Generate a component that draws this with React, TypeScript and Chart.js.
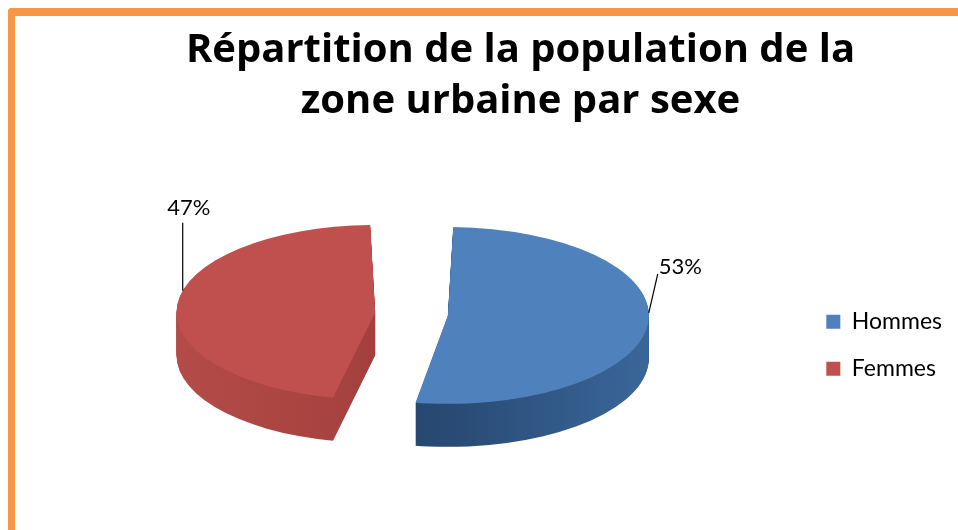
import { useEffect, useRef } from "react";
import { Chart, registerables } from "chart.js";

Chart.register(...registerables);

// ---- data ----
const categories = ["Hommes", "Femmes"];
const values = [53, 47];
const titleLines = ["Répartition de la population de la", "zone urbaine par sexe"];

// ---- styles ----
const topColors = ["#4F81BD", "#C0504D"];
const sideStops = [
  ["#1D3859", "#284A74", "#3B699C"],
  ["#B54D4A", "#A3403D", "#8C3331"],
];
const explode = [136, 156];
const leaderShiftDeg = [-7, 9];
// label placement relative to the leader anchor: [line end dx, line end dy, text dx, text dy, align]
const labelPlacement: [number, number, number, number, CanvasTextAlign][] = [
  [9, -39, 10, -46, "left"],
  [0, -68, 6, -83, "center"],
];
const FONT = "Lato";
const TITLE_FONT = "Open Sans";
const PIE = { cx: 399, cy: 298, k: 0.44, depth: 43, radius: 167 };

function applyProj(ctx: CanvasRenderingContext2D, ref: any) {
  ctx.translate(PIE.cx, PIE.cy);
  ctx.scale(1, PIE.k);
  ctx.translate(-ref.x, -ref.y);
}

const pie3d = {
  id: "pie3d",
  beforeDatasetsDraw(chart: any) {
    const ctx: CanvasRenderingContext2D = chart.ctx;
    const arcs = chart.getDatasetMeta(0).data;
    if (!arcs.length) return;
    const ref = arcs[0];
    for (let d = PIE.depth; d >= 1; d--) {
      ctx.save();
      ctx.translate(0, d);
      applyProj(ctx, ref);
      arcs.forEach((el: any, i: number) => {
        const r = el.outerRadius + 50;
        const g = ctx.createLinearGradient(ref.x - r, 0, ref.x + r, 0);
        const s = sideStops[i % sideStops.length];
        g.addColorStop(0, s[0]);
        g.addColorStop(0.5, s[1]);
        g.addColorStop(1, s[2]);
        const orig = el.options;
        el.options = Object.assign({}, orig, { backgroundColor: g, borderWidth: 0 });
        el.draw(ctx);
        el.options = orig;
      });
      ctx.restore();
    }
    ctx.save();
    applyProj(ctx, ref);
  },
  afterDatasetsDraw(chart: any) {
    const ctx: CanvasRenderingContext2D = chart.ctx;
    ctx.restore();
    const arcs = chart.getDatasetMeta(0).data;
    if (!arcs.length) return;
    const ref = arcs[0];
    const data = chart.data.datasets[0].data as number[];
    const total = data.reduce((a, b) => a + b, 0);
    arcs.forEach((el: any, i: number) => {
      const off = (el.options.offset || 0) / 4;
      const circ = el.endAngle - el.startAngle;
      const fix = 1 - Math.sin(Math.min(Math.PI, circ));
      const reff = el.outerRadius + off * fix;
      const mid = (el.startAngle + el.endAngle) / 2;
      const a = mid + (leaderShiftDeg[i] * Math.PI) / 180;
      const px = ref.x + Math.cos(mid) * off + Math.cos(a) * reff;
      const py = ref.y + Math.sin(mid) * off + Math.sin(a) * reff;
      const sx = PIE.cx + (px - ref.x);
      const sy = PIE.cy + PIE.k * (py - ref.y);
      const [ldx, ldy, tdx, tdy, align] = labelPlacement[i];
      ctx.save();
      ctx.strokeStyle = "#000";
      ctx.lineWidth = 1.2;
      ctx.beginPath();
      ctx.moveTo(sx, sy);
      ctx.lineTo(sx + ldx, sy + ldy);
      ctx.stroke();
      ctx.fillStyle = "#000";
      ctx.font = `22px ${FONT}`;
      ctx.textAlign = align;
      ctx.textBaseline = "middle";
      ctx.fillText(Math.round((data[i] / total) * 100) + "%", sx + tdx, sy + tdy);
      ctx.restore();
    });
  },
};

export default function App() {
  const ref = useRef<HTMLCanvasElement>(null);
  useEffect(() => {
    if (!ref.current) return;
    const chart = new Chart(ref.current, {
      type: "pie",
      data: {
        labels: categories,
        datasets: [
          {
            data: values,
            backgroundColor: topColors,
            borderWidth: 0,
            offset: explode,
            radius: PIE.radius,
            clip: false,
          } as any,
        ],
      },
      options: {
        responsive: false,
        animation: false,
        events: [],
        layout: { padding: { left: 74, right: 6, top: 0, bottom: 0 } },
        plugins: {
          title: {
            display: true,
            text: titleLines,
            color: "#000",
            font: { family: TITLE_FONT, size: 40, weight: "bold", lineHeight: 1.27 },
            padding: { top: 9, bottom: 34 },
          },
          legend: {
            position: "right",
            fullSize: false,
            labels: {
              boxWidth: 14,
              boxHeight: 14,
              padding: 24,
              color: "#000",
              font: { family: FONT, size: 23 },
            },
          },
          tooltip: { enabled: false },
        },
      },
      plugins: [pie3d],
    });
    return () => chart.destroy();
  }, []);
  return (
    <div
      style={{
        position: "fixed",
        left: 8,
        top: 8,
        width: 950,
        height: 522,
        boxSizing: "border-box",
        borderTop: "8px solid #F79646",
        borderLeft: "7px solid #F79646",
        borderTopLeftRadius: 4,
        background: "#fff",
      }}
    >
      <canvas ref={ref} width={943} height={514} style={{ display: "block" }} />
    </div>
  );
}
